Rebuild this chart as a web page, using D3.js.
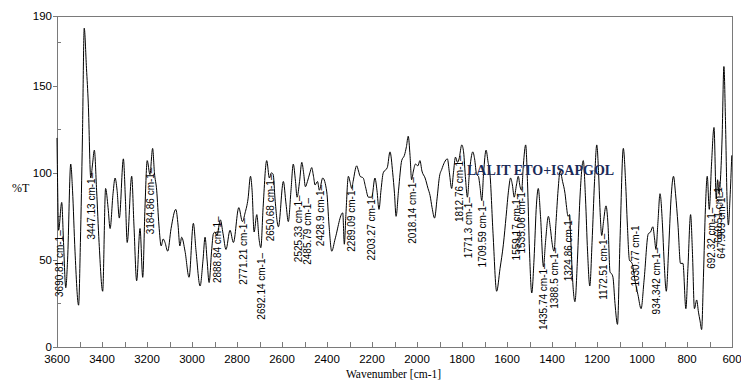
<!DOCTYPE html>
<html>
<head>
<meta charset="utf-8">
<script src="https://cdn.jsdelivr.net/npm/d3@7"></script>
<style>
  body { margin: 0; background: #fff; }
  svg { display: block; }
</style>
</head>
<body>
<div id="chart"></div>
<script>
// spectrum trace: wavenumber (cm-1) and %T
const wavenumbers = [
  3600, 3598, 3593, 3579, 3571, 3561, 3553, 3539, 3531, 3520, 3504, 3496, 3487, 3479, 3469, 3461,
  3450, 3442, 3434, 3424, 3413, 3397, 3384, 3373, 3364, 3351, 3342, 3333, 3323, 3305, 3296, 3288,
  3268, 3258, 3246, 3231, 3219, 3209, 3199, 3187, 3175, 3167, 3157, 3147, 3137, 3128, 3120, 3108,
  3093, 3072, 3062, 3054, 3046, 3031, 3013, 2994, 2982, 2964, 2951, 2942, 2933, 2924, 2913, 2905,
  2898, 2889, 2874, 2862, 2849, 2831, 2816, 2792, 2776, 2764, 2751, 2740, 2733, 2724, 2712, 2702,
  2694, 2684, 2668, 2656, 2647, 2639, 2631, 2616, 2594, 2582, 2572, 2560, 2550, 2540, 2533, 2522,
  2512, 2504, 2496, 2487, 2476, 2468, 2460, 2453, 2442, 2434, 2419, 2401, 2391, 2379, 2364, 2330,
  2323, 2316, 2305, 2298, 2290, 2284, 2268, 2260, 2253, 2239, 2229, 2216, 2201, 2187, 2178, 2169,
  2160, 2150, 2132, 2120, 2108, 2100, 2093, 2082, 2068, 2056, 2047, 2039, 2031, 2024, 2016, 2007,
  1996, 1987, 1978, 1964, 1951, 1942, 1933, 1922, 1911, 1900, 1890, 1878, 1865, 1856, 1846, 1838,
  1829, 1820, 1813, 1801, 1793, 1784, 1776, 1767, 1752, 1744, 1735, 1727, 1720, 1712, 1704, 1693,
  1684, 1676, 1662, 1646, 1631, 1616, 1604, 1593, 1584, 1576, 1568, 1558, 1550, 1542, 1535, 1527,
  1517, 1509, 1500, 1490, 1480, 1469, 1461, 1451, 1438, 1429, 1416, 1407, 1400, 1391, 1382, 1373,
  1364, 1353, 1342, 1335, 1329, 1322, 1316, 1309, 1298, 1287, 1276, 1261, 1251, 1242, 1232, 1222,
  1211, 1201, 1193, 1187, 1179, 1171, 1160, 1151, 1142, 1135, 1129, 1120, 1109, 1098, 1083, 1073,
  1065, 1056, 1044, 1031, 1018, 1004, 991, 972, 962, 952, 944, 938, 929, 920, 909, 902,
  892, 882, 871, 860, 851, 840, 829, 818, 805, 796, 784, 776, 767, 757, 749, 742,
  735, 727, 718, 710, 701, 691, 680, 670, 664, 658, 651, 644, 636, 629, 622, 616,
  609, 601
];
const transmittance = [
  120, 100, 67, 83, 60, 34, 50, 105, 90, 55, 24, 60, 120, 183, 160, 140,
  97, 105, 113, 90, 60, 32, 91, 80, 68, 88, 97, 90, 74, 108, 85, 60,
  98, 70, 38, 68, 40, 80, 107, 99, 114, 100, 90, 70, 58, 62, 60, 55,
  68, 79, 70, 58, 63, 55, 40, 71, 55, 35, 50, 63, 50, 37, 55, 65,
  66, 64, 73, 65, 56, 67, 60, 80, 72, 77, 85, 98, 90, 66, 76, 62,
  57, 80, 107, 97, 100, 99, 85, 69, 95, 82, 72, 90, 105, 95, 86, 95,
  106, 100, 92, 95, 100, 103, 98, 93, 95, 90, 97, 89, 70, 55, 62, 77,
  59, 76, 98, 95, 91, 95, 104, 101, 98, 97, 92, 86, 86, 97, 90, 79,
  90, 100, 103, 112, 100, 88, 75, 90, 107, 110, 115, 121, 110, 96, 101, 105,
  104, 107, 101, 97, 91, 87, 80, 74, 85, 98, 102, 106, 108, 100, 91, 100,
  109, 106, 108, 116, 112, 96, 86, 100, 112, 108, 99, 98, 92, 84, 100, 113,
  106, 100, 65, 32, 45, 59, 75, 90, 97, 93, 86, 93, 98, 92, 90, 105,
  116, 95, 55, 31, 50, 82, 91, 75, 46, 60, 75, 68, 60, 55, 72, 90,
  101, 95, 88, 80, 75, 76, 60, 40, 26, 50, 85, 107, 85, 55, 35, 60,
  95, 116, 100, 80, 64, 72, 81, 70, 43, 42, 40, 25, 13, 60, 114, 95,
  70, 50, 48, 38, 30, 22, 38, 65, 66, 69, 62, 56, 72, 88, 70, 50,
  32, 55, 85, 98, 88, 70, 48, 48, 22, 45, 76, 55, 22, 27, 20, 15,
  10, 40, 80, 98, 79, 105, 126, 85, 96, 88, 97, 120, 161, 130, 85, 70,
  85, 110
];

// peak picks: label text, where it is drawn (cm-1), %T at the tip of the label
const peakLabels = ['3690.81 cm-1', '3447.13 cm-1', '3184.86 cm-1', '2888.84 cm-1', '2771.21 cm-1',
  '2692.14 cm-1', '2650.68 cm-1', '2525.33 cm-1', '2485.79 cm-1', '2428.9 cm-1', '2289.09 cm-1',
  '2203.27 cm-1', '2018.14 cm-1', '1812.76 cm-1', '1771.3 cm-1', '1709.59 cm-1', '1559.17 cm-1',
  '1535.06 cm-1', '1435.74 cm-1', '1388.5 cm-1', '1324.86 cm-1', '1172.51 cm-1', '934.342 cm-1',
  '692.32 cm-1', '660.51 cm-1', '647.969 cm-1'];
const peakAt = [3591, 3447.13, 3184.86, 2888.84, 2771.21, 2692.14, 2650.68, 2525.33, 2485.79, 2428.9,
  2289.09, 2203.27, 2018.14, 1812.76, 1771.3, 1709.59, 1559.17, 1535.06, 1435.74, 1388.5, 1324.86,
  1172.51, 934.342, 692.32, 660.51, 647.969];
const peakTip = [67, 100, 103, 75, 74, 54, 99, 87, 85.5, 93, 93, 88, 97.5, 110, 86, 84, 88, 92, 48,
  57, 76, 65, 57, 80, 95, 89];

// this one is written above the trace
const upLabel = '–1030.77 cm-1';
const upAt = 1030.77;
const upTip = 31.5;

const xTicks = [3600, 3400, 3200, 3000, 2800, 2600, 2400, 2200, 2000, 1800, 1600, 1400, 1200, 1000, 800, 600];
const yTicks = [0, 50, 100, 150, 190];
const title = 'LALIT ETO+ISAPGOL';

const width = 741;
const height = 380;
const margin = { top: 16, right: 9, bottom: 33, left: 57 };

const svg = d3.select('#chart')
  .append('svg')
  .attr('width', width)
  .attr('height', height);

const x = d3.scaleLinear()
  .domain([3600, 600])
  .range([margin.left, width - margin.right]);

const y = d3.scaleLinear()
  .domain([0, 190])
  .range([height - margin.bottom, margin.top]);

const frameColor = '#7a7a7a';
const tickFont = '11.5px "Liberation Sans", Arial, sans-serif';

// frame
svg.append('rect')
  .attr('x', x(3600))
  .attr('y', y(190))
  .attr('width', x(600) - x(3600))
  .attr('height', y(0) - y(190))
  .attr('fill', 'none')
  .attr('stroke', frameColor)
  .attr('shape-rendering', 'crispEdges');

// x axis: small ticks every 100 pointing into the plot
const xAxis = svg.append('g')
  .attr('transform', `translate(0, ${y(0)})`)
  .call(d3.axisTop(x).tickValues(d3.range(3600, 599, -100)).tickSize(5).tickFormat(''));
xAxis.select('.domain').remove();
xAxis.selectAll('line').attr('stroke', frameColor).attr('shape-rendering', 'crispEdges');

svg.append('g')
  .selectAll('text')
  .data(xTicks)
  .enter()
  .append('text')
  .attr('x', d => x(d))
  .attr('y', y(0) + 16)
  .attr('text-anchor', 'middle')
  .style('font', tickFont)
  .text(d => d);

// y axis: labelled ticks outside, minor ticks inside
const yAxis = svg.append('g')
  .attr('transform', `translate(${x(3600)}, 0)`)
  .call(d3.axisLeft(y).tickValues(yTicks).tickSize(4).tickPadding(1));
yAxis.select('.domain').remove();
yAxis.selectAll('line').attr('stroke', frameColor).attr('shape-rendering', 'crispEdges');
yAxis.selectAll('text')
  .attr('fill', '#000')
  .style('font', tickFont);

const yMinor = svg.append('g')
  .attr('transform', `translate(${x(3600)}, 0)`)
  .call(d3.axisRight(y).tickValues([25, 75, 125, 175]).tickSize(4).tickFormat(''));
yMinor.select('.domain').remove();
yMinor.selectAll('line').attr('stroke', frameColor).attr('shape-rendering', 'crispEdges');

// axis titles
svg.append('text')
  .attr('x', 12)
  .attr('y', 192)
  .style('font', '12px "Liberation Serif", "Times New Roman", serif')
  .text('%T');

svg.append('text')
  .attr('x', (x(3600) + x(600)) / 2 - 1)
  .attr('y', 378)
  .attr('text-anchor', 'middle')
  .style('font', '11.5px "Liberation Serif", "Times New Roman", serif')
  .text('Wavenumber [cm-1]');

// the spectrum
const points = wavenumbers.map((w, i) => [w, transmittance[i]]);

svg.append('path')
  .datum(points)
  .attr('fill', 'none')
  .attr('stroke', '#000')
  .attr('stroke-width', 1)
  .attr('d', d3.line()
    .x(d => x(d[0]))
    .y(d => y(d[1]))
    .curve(d3.curveMonotoneX));

// peak labels, hanging under the trace
const labelFont = '10px "Liberation Sans", Arial, sans-serif';

svg.append('g')
  .selectAll('text')
  .data(peakLabels)
  .enter()
  .append('text')
  .attr('transform', (d, i) => `translate(${x(peakAt[i])}, ${y(peakTip[i])}) rotate(-90)`)
  .attr('dy', '0.35em')
  .attr('text-anchor', 'end')
  .style('font', labelFont)
  .text(d => d + '–');

svg.append('text')
  .attr('transform', `translate(${x(upAt)}, ${y(upTip)}) rotate(-90)`)
  .attr('dy', '0.35em')
  .attr('text-anchor', 'start')
  .style('font', labelFont)
  .text(upLabel);

// sample name
svg.append('text')
  .attr('x', 467)
  .attr('y', 175)
  .attr('fill', '#1b2a57')
  .style('font', 'bold 14px "Liberation Serif", "Times New Roman", serif')
  .text(title);
</script>
</body>
</html>
